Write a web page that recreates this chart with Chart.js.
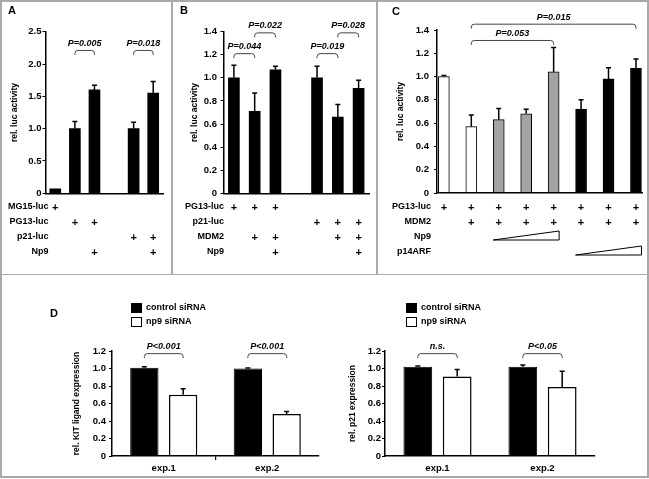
<!DOCTYPE html>
<html>
<head>
<meta charset="utf-8">
<title>Np9 reporter and siRNA assays</title>
<script src="https://cdn.jsdelivr.net/npm/chart.js@4.4.1/dist/chart.umd.min.js"></script>
<style>
  html, body { margin: 0; padding: 0; background: #fff; }
  #figure { position: relative; width: 649px; height: 479px; overflow: hidden; font-family: "Liberation Sans", Arial, sans-serif; }
  .frame { position: absolute; left: 0; top: 0; width: 649px; height: 478px; box-sizing: border-box; border: 2px solid #a9a9a9; }
  .rule { position: absolute; background: #a9a9a9; }
  .panel { position: absolute; }
  .panel canvas { display: block; }
  .letter { position: absolute; font-weight: bold; font-size: 11px; line-height: 11px; color: #000; }
</style>
</head>
<body>
<div id="figure">
  <div class="frame"></div>
  <div class="rule" style="left:171px;top:0;width:1.5px;height:274px"></div>
  <div class="rule" style="left:376px;top:0;width:1.5px;height:274px"></div>
  <div class="rule" style="left:0;top:273.5px;width:649px;height:1.5px"></div>

  <div class="panel" style="left:0;top:0"><canvas id="chartA" width="172" height="274"></canvas></div>
  <div class="panel" style="left:172px;top:0"><canvas id="chartB" width="205" height="274"></canvas></div>
  <div class="panel" style="left:377px;top:0"><canvas id="chartC" width="270" height="274"></canvas></div>
  <div class="panel" style="left:40px;top:276px"><canvas id="chartKit" width="290" height="200"></canvas></div>
  <div class="panel" style="left:330px;top:276px"><canvas id="chartP21" width="316" height="200"></canvas></div>

  <div class="letter" style="left:8px;top:5px">A</div>
  <div class="letter" style="left:180px;top:5px">B</div>
  <div class="letter" style="left:392px;top:6px">C</div>
  <div class="letter" style="left:50px;top:308px">D</div>
</div>

<script>
// ---- Panel A: MG15 / PG13 / p21 reporters +/- Np9
const aLabels = ['MG15', 'PG13', 'PG13 + Np9', '', 'p21', 'p21 + Np9'];
const aValues = [0.07, 1.0, 1.6, null, 1.0, 1.55];
const aErrors = [0, 0.11, 0.07, null, 0.1, 0.18];
const aTicks = ['0', '0.5', '1.0', '1.5', '2.0', '2.5'];
const aRowNames = ['MG15-luc', 'PG13-luc', 'p21-luc', 'Np9'];
const aRowMarks = [[0], [1, 2], [4, 5], [2, 5]];
const aBrackets = [[1, 2, 2.21, 'P=0.005'], [4, 5, 2.21, 'P=0.018']];

// ---- Panel B: MDM2 +/- Np9
const bLabels = ['PG13', 'PG13 + MDM2', 'PG13 + MDM2 + Np9', '', 'p21', 'p21 + MDM2', 'p21 + MDM2 + Np9'];
const bValues = [1.0, 0.71, 1.07, null, 1.0, 0.66, 0.91];
const bErrors = [0.11, 0.16, 0.03, null, 0.1, 0.11, 0.07];
const bTicks = ['0', '0.2', '0.4', '0.6', '0.8', '1.0', '1.2', '1.4'];
const bRowNames = ['PG13-luc', 'p21-luc', 'MDM2', 'Np9'];
const bRowMarks = [[0, 1, 2], [4, 5, 6], [1, 2, 5, 6], [2, 6]];
const bBrackets = [[0, 1, 1.21, 'P=0.044'], [1, 2, 1.39, 'P=0.022'], [4, 5, 1.21, 'P=0.019'], [5, 6, 1.39, 'P=0.028']];

// ---- Panel C: Np9 and p14ARF titrations
const cValues = [1.0, 0.57, 0.63, 0.68, 1.04, 0.72, 0.98, 1.07];
const cErrors = [0.01, 0.1, 0.095, 0.04, 0.21, 0.08, 0.095, 0.08];
const cGroups = ['ctrl', 'ctrl', 'np9', 'np9', 'np9', 'arf', 'arf', 'arf'];
const cTicks = ['0', '0.2', '0.4', '0.6', '0.8', '1.0', '1.2', '1.4'];
const cRowNames = ['PG13-luc', 'MDM2', 'Np9', 'p14ARF'];
const cRowMarks = [[0, 1, 2, 3, 4, 5, 6, 7], [1, 2, 3, 4, 5, 6, 7], [], []];
const cRowWedges = [[2, 2, 4], [3, 5, 7]];   // row, first bar, last bar
const cBrackets = [[1, 4, 1.31, 'P=0.053'], [1, 7, 1.45, 'P=0.015']];

// ---- Panel D: siRNA knock-down
const dGroups = ['exp.1', 'exp.2'];
const dSeries = ['control siRNA', 'np9 siRNA'];
const dTicks = ['0', '0.2', '0.4', '0.6', '0.8', '1.0', '1.2'];
const kitControl = [1.01, 1.0];
const kitControlErr = [0.01, 0.005];
const kitNp9 = [0.70, 0.48];
const kitNp9Err = [0.07, 0.03];
const kitBrackets = [[0, 1.17, 'P<0.001'], [1, 1.17, 'P<0.001']];
const p21Control = [1.02, 1.02];
const p21ControlErr = [0.01, 0.02];
const p21Np9 = [0.91, 0.79];
const p21Np9Err = [0.08, 0.18];
const p21Brackets = [[0, 1.17, 'n.s.'], [1, 1.17, 'P<0.05']];

const FONT = '"Liberation Sans", Arial, sans-serif';
Chart.defaults.font.family = FONT;
Chart.defaults.color = '#000';

// vertical error bars (upper half only), read from dataset.errors
const errorBars = {
  id: 'errorBars',
  afterDatasetsDraw(chart) {
    const ctx = chart.ctx;
    const y = chart.scales.y;
    ctx.save();
    ctx.strokeStyle = '#000';
    ctx.lineWidth = 1.5;
    chart.data.datasets.forEach((ds, d) => {
      const meta = chart.getDatasetMeta(d);
      meta.data.forEach((bar, i) => {
        const err = ds.errors && ds.errors[i];
        if (!err) return;
        const v = meta.controller.getParsed(i).y;
        const top = y.getPixelForValue(v + err);
        ctx.beginPath();
        ctx.moveTo(bar.x, bar.y);
        ctx.lineTo(bar.x, top);
        ctx.moveTo(bar.x - 2.5, top);
        ctx.lineTo(bar.x + 2.5, top);
        ctx.stroke();
      });
    });
    ctx.restore();
  }
};

// significance brackets between two bars: {a:[dataset,index], b:[dataset,index], level, text}
function makeBrackets(list) {
  return {
    id: 'brackets',
    afterDraw(chart) {
      const ctx = chart.ctx;
      const y = chart.scales.y;
      ctx.save();
      ctx.strokeStyle = '#444';
      ctx.lineWidth = 1;
      ctx.fillStyle = '#000';
      ctx.font = 'italic bold 9px ' + FONT;
      ctx.textAlign = 'center';
      ctx.textBaseline = 'middle';
      list.forEach(br => {
        const x1 = chart.getDatasetMeta(br.a[0]).data[br.a[1]].x;
        const x2 = chart.getDatasetMeta(br.b[0]).data[br.b[1]].x;
        const top = y.getPixelForValue(br.level);
        const leg = 4.5, r = 3;
        ctx.beginPath();
        ctx.moveTo(x1, top + leg);
        ctx.arcTo(x1, top, x1 + r, top, r);
        ctx.arcTo(x2, top, x2, top + leg, r);
        ctx.lineTo(x2, top + leg);
        ctx.stroke();
        ctx.fillText(br.text, (x1 + x2) / 2, top - 7);
      });
      ctx.restore();
    }
  };
}

// treatment table under the bars: row names, "+" marks and titration wedges
function makeRows(cfg) {
  return {
    id: 'treatmentRows',
    afterDraw(chart) {
      const ctx = chart.ctx;
      const bars = chart.getDatasetMeta(0).data;
      ctx.save();
      ctx.fillStyle = '#000';
      ctx.textBaseline = 'middle';
      cfg.names.forEach((name, r) => {
        const y = cfg.top + r * cfg.step;
        ctx.font = 'bold 9px ' + FONT;
        ctx.textAlign = 'right';
        ctx.fillText(name, cfg.labelRight, y);
        ctx.font = 'bold 11px ' + FONT;
        ctx.textAlign = 'center';
        (cfg.marks[r] || []).forEach(i => ctx.fillText('+', bars[i].x, y + 0.5));
      });
      (cfg.wedges || []).forEach(w => {
        const y = cfg.top + w[0] * cfg.step + 3;
        const x1 = bars[w[1]].x - bars[w[1]].width / 2;
        const x2 = bars[w[2]].x + bars[w[2]].width / 2;
        ctx.beginPath();
        ctx.moveTo(x1, y);
        ctx.lineTo(x2, y - 9);
        ctx.lineTo(x2, y);
        ctx.closePath();
        ctx.strokeStyle = '#000';
        ctx.lineWidth = 1;
        ctx.stroke();
      });
      ctx.restore();
    }
  };
}

// legend drawn as a stacked pair of boxes
function makeLegend(x, y) {
  return {
    id: 'stackLegend',
    afterDraw(chart) {
      const ctx = chart.ctx;
      ctx.save();
      ctx.font = 'bold 9px ' + FONT;
      ctx.textBaseline = 'middle';
      ctx.textAlign = 'left';
      chart.data.datasets.forEach((ds, k) => {
        const top = y + k * 14;
        ctx.fillStyle = ds.backgroundColor;
        ctx.fillRect(x, top, 11, 10);
        ctx.strokeStyle = '#000';
        ctx.lineWidth = 1;
        ctx.strokeRect(x + 0.5, top + 0.5, 10, 9);
        ctx.fillStyle = '#000';
        ctx.fillText(ds.label, x + 15, top + 5);
      });
      ctx.restore();
    }
  };
}

function valueAxis(max, step, labels, opt) {
  return {
    min: 0,
    max: max,
    ticks: { stepSize: step, padding: opt.labelPad, font: { size: 9.5, weight: 'bold' }, callback: (v, i) => labels[i] },
    grid: { drawOnChartArea: false, drawTicks: true, tickLength: 3, color: '#000' },
    border: { display: true, color: '#000', width: 1.5, z: 1 },
    title: { display: true, text: opt.title, font: { size: 8.5, weight: 'bold' }, padding: { top: opt.titlePad, bottom: 0 } },
    afterFit: s => { s.width = opt.width; }
  };
}

function plainAxis(extra) {
  return Object.assign({
    ticks: { display: false },
    grid: { display: false },
    border: { display: true, color: '#000', width: 1.5, z: 1 },
    afterFit: s => { s.height = 0; }
  }, extra);
}

function toBrackets(list) {
  return list.map(b => ({ a: [0, b[0]], b: [0, b[1]], level: b[2], text: b[3] }));
}

const baseOptions = {
  responsive: false,
  animation: false,
  plugins: { legend: { display: false }, tooltip: { enabled: false } }
};

// A
new Chart(document.getElementById('chartA'), {
  type: 'bar',
  data: { labels: aLabels, datasets: [{ data: aValues, errors: aErrors, backgroundColor: '#000', barThickness: 11 }] },
  options: Object.assign({}, baseOptions, {
    layout: { padding: { left: 0, top: 31.7, right: 9, bottom: 80.7 } },
    scales: {
      x: plainAxis({}),
      y: valueAxis(2.5, 0.5, aTicks, { width: 45.5, titlePad: 9.9, labelPad: 1, title: 'rel. luc activity' })
    }
  }),
  plugins: [errorBars, makeBrackets(toBrackets(aBrackets)),
    makeRows({ names: aRowNames, marks: aRowMarks, labelRight: 48.5, top: 207, step: 15 })]
});

// B
new Chart(document.getElementById('chartB'), {
  type: 'bar',
  data: { labels: bLabels, datasets: [{ data: bValues, errors: bErrors, backgroundColor: '#000', barThickness: 11 }] },
  options: Object.assign({}, baseOptions, {
    layout: { padding: { left: 0, top: 31.7, right: 8, bottom: 80.7 } },
    scales: {
      x: plainAxis({}),
      y: valueAxis(1.4, 0.2, bTicks, { width: 51.5, titlePad: 17.4, labelPad: 3.5, title: 'rel. luc activity' })
    }
  }),
  plugins: [errorBars, makeBrackets(toBrackets(bBrackets)),
    makeRows({ names: bRowNames, marks: bRowMarks, labelRight: 52, top: 207, step: 15 })]
});

// C
const groupFill = { ctrl: '#ffffff', np9: '#a3a3a3', arf: '#000000' };
new Chart(document.getElementById('chartC'), {
  type: 'bar',
  data: {
    datasets: [{
      data: cValues.map((v, i) => ({ x: i, y: v })),
      errors: cErrors,
      backgroundColor: cGroups.map(g => groupFill[g]),
      borderColor: '#000',
      borderWidth: 1,
      barThickness: 11
    }]
  },
  options: Object.assign({}, baseOptions, {
    layout: { padding: { left: 0, top: 30, right: 5, bottom: 81 } },
    scales: {
      x: plainAxis({ type: 'linear', min: -0.25, max: 7.22, offset: false, bounds: 'data' }),
      y: valueAxis(1.4, 0.2, cTicks, { width: 60, titlePad: 18.4, labelPad: 5, title: 'rel. luc activity' })
    }
  }),
  plugins: [errorBars, makeBrackets(toBrackets(cBrackets)),
    makeRows({ names: cRowNames, marks: cRowMarks, wedges: cRowWedges, labelRight: 54, top: 207, step: 15 })]
});

// D
function siRnaChart(id, control, controlErr, np9, np9Err, brackets, opt) {
  return new Chart(document.getElementById(id), {
    type: 'bar',
    data: {
      labels: dGroups,
      datasets: [
        { label: dSeries[0], data: control, errors: controlErr, backgroundColor: '#000', borderColor: '#000', borderWidth: 1 },
        { label: dSeries[1], data: np9, errors: np9Err, backgroundColor: '#fff', borderColor: '#000', borderWidth: 1.5 }
      ]
    },
    options: Object.assign({}, baseOptions, {
      categoryPercentage: 0.75,
      barPercentage: 0.73,
      layout: { padding: { left: 0, top: 75, right: opt.right, bottom: 0 } },
      scales: {
        x: {
          ticks: { padding: 3, maxRotation: 0, font: { size: 9.5, weight: 'bold' } },
          grid: { drawOnChartArea: false, drawTicks: true, tickLength: 4, lineWidth: 1.2,
            color: c => (opt.midTick && c.index === 1) ? '#000' : 'rgba(0,0,0,0)' },
          border: { display: true, color: '#000', width: 1.5, z: 1 },
          afterFit: s => { s.height = 20; }
        },
        y: valueAxis(1.2, 0.2, dTicks, { width: opt.width, titlePad: opt.titlePad, labelPad: opt.labelPad, title: opt.title })
      }
    }),
    plugins: [errorBars,
      makeBrackets(brackets.map(b => ({ a: [0, b[0]], b: [1, b[0]], level: b[1], text: b[2] }))),
      makeLegend(opt.legendX, 27)]
  });
}

siRnaChart('chartKit', kitControl, kitControlErr, kitNp9, kitNp9Err, kitBrackets,
  { right: 11, width: 72, titlePad: 31.9, labelPad: 3, title: 'rel. KIT ligand expression', legendX: 91, midTick: true });
siRnaChart('chartP21', p21Control, p21ControlErr, p21Np9, p21Np9Err, p21Brackets,
  { right: 51, width: 55, titlePad: 17.9, labelPad: 1, title: 'rel. p21 expression', legendX: 76, midTick: false });
</script>
</body>
</html>
